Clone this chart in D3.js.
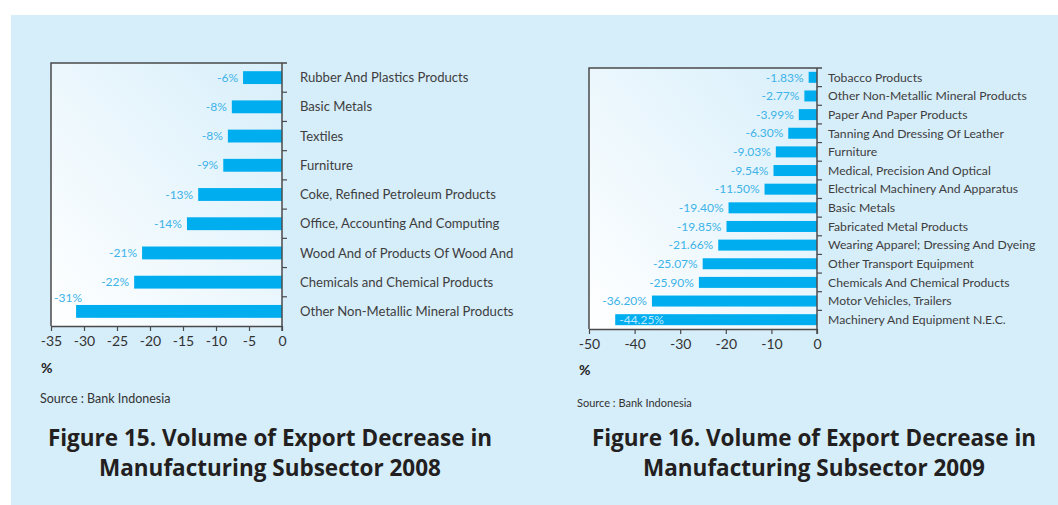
<!DOCTYPE html>
<html>
<head>
<meta charset="utf-8">
<script src="https://cdn.jsdelivr.net/npm/d3@7"></script>
<style>
  html, body { margin: 0; padding: 0; background: #fff; }
  svg text { font-family: Lato, "Open Sans", sans-serif; }
  svg text.title { font-family: "Open Sans", "Noto Sans", sans-serif; }
</style>
</head>
<body>
<div id="chart"></div>
<script>
// Figure 15 (2008)
const cats2008 = ["Rubber And Plastics Products", "Basic Metals", "Textiles", "Furniture",
  "Coke, Refined Petroleum Products", "Office, Accounting And Computing",
  "Wood And of Products Of Wood And", "Chemicals and Chemical Products",
  "Other Non-Metallic Mineral Products"];
const vals2008 = [-5.9, -7.6, -8.2, -8.9, -12.7, -14.4, -21.2, -22.4, -31.2];
const ticks2008 = [-35, -30, -25, -20, -15, -10, -5, 0];

// Figure 16 (2009)
const cats2009 = ["Tobacco Products", "Other Non-Metallic Mineral Products", "Paper And Paper Products",
  "Tanning And Dressing Of Leather", "Furniture", "Medical, Precision And Optical",
  "Electrical Machinery And Apparatus", "Basic Metals", "Fabricated Metal Products",
  "Wearing Apparel; Dressing And Dyeing", "Other Transport Equipment",
  "Chemicals And Chemical Products", "Motor Vehicles, Trailers", "Machinery And Equipment N.E.C."];
const vals2009 = [-1.83, -2.77, -3.99, -6.30, -9.03, -9.54, -11.50, -19.40, -19.85, -21.66,
  -25.07, -25.90, -36.20, -44.25];
const ticks2009 = [-50, -40, -30, -20, -10, 0];

const W = 1058, H = 505;
const svg = d3.select("#chart").append("svg").attr("width", W).attr("height", H);

// panel background
svg.append("rect").attr("x", 11).attr("y", 15).attr("width", W - 11).attr("height", H - 15)
  .attr("fill", "#d6edfa");

const defs = svg.append("defs");
const grad = defs.append("linearGradient").attr("id", "plotbg")
  .attr("x1", "100%").attr("y1", "0%").attr("x2", "0%").attr("y2", "100%");
grad.append("stop").attr("offset", "0%").attr("stop-color", "#d8effb");
grad.append("stop").attr("offset", "100%").attr("stop-color", "#ffffff");

function drawChart(o) {
  const g = svg.append("g");
  const x = d3.scaleLinear().domain(o.domain).range([o.left, o.right]);
  const y = d3.scaleBand().domain(o.cats).range([o.top, o.bottom]).paddingInner(o.pad).paddingOuter(o.pad / 2);

  g.append("rect").attr("x", o.left).attr("y", o.top)
    .attr("width", o.right - o.left).attr("height", o.bottom - o.top)
    .attr("fill", "url(#plotbg)");

  // bars
  g.selectAll("rect.bar").data(o.vals).join("rect").attr("class", "bar")
    .attr("x", d => x(d)).attr("width", d => x(0) - x(d))
    .attr("y", (d, i) => y(o.cats[i])).attr("height", y.bandwidth())
    .attr("fill", "#00aeef");

  // frame: left + top
  g.append("path")
    .attr("d", `M${o.left},${o.bottom}V${o.top}H${o.right + 5}`)
    .attr("fill", "none").attr("stroke", "#4a4a4a").attr("stroke-width", 1.5);

  // x axis
  const xa = g.append("g").attr("transform", `translate(0,${o.bottom})`)
    .call(d3.axisBottom(x).tickValues(o.ticks).tickFormat(d => String(d))
      .tickSize(5).tickSizeOuter(0).tickPadding(5));
  xa.select(".domain").attr("stroke", "#4a4a4a").attr("stroke-width", 1.5);
  xa.selectAll(".tick line").attr("stroke", "#4a4a4a").attr("stroke-width", 1.2);
  xa.selectAll(".tick text").attr("fill", "#333").style("font-size", o.tickFont + "px")
    .style("font-family", "Lato, sans-serif");

  // y axis at zero with ticks at band boundaries
  g.append("line").attr("x1", x(0)).attr("x2", x(0)).attr("y1", o.top).attr("y2", o.bottom + 5)
    .attr("stroke", "#4a4a4a").attr("stroke-width", 1.5);
  const bounds = d3.range(1, o.cats.length).map(i => o.top + i * y.step());
  g.selectAll("line.ytick").data(bounds).join("line").attr("class", "ytick")
    .attr("x1", x(0)).attr("x2", x(0) + 5).attr("y1", d => d).attr("y2", d => d)
    .attr("stroke", "#4a4a4a").attr("stroke-width", 1.2);

  // category labels
  g.selectAll("text.cat").data(o.cats).join("text").attr("class", "cat")
    .attr("x", o.catX).attr("y", d => y(d) + y.bandwidth() / 2).attr("dy", "0.35em")
    .attr("fill", "#3e3e3e").style("font-size", o.catFont + "px").text(d => d);

  // value labels
  g.selectAll("text.val").data(o.vals).join("text").attr("class", "val")
    .each(function (d, i) {
      const t = d3.select(this);
      const cy = y(o.cats[i]) + y.bandwidth() / 2;
      const p = o.place(d, i, x, y);
      t.attr("x", p.x).attr("y", cy + p.dy).attr("dy", "0.35em")
        .attr("text-anchor", p.anchor).attr("fill", p.fill);
    })
    .style("font-size", o.valFont + "px")
    .text(o.fmt);

  // unit
  g.append("text").attr("x", o.left - 10).attr("y", o.unitY).attr("fill", "#222")
    .style("font-size", "14px").style("font-weight", "bold").text("%");

  // source
  g.append("text").attr("x", o.srcX).attr("y", o.srcY).attr("fill", "#333")
    .style("font-size", o.srcFont + "px").text("Source : Bank Indonesia");

  // title
  const tt = g.append("text").attr("class", "title").attr("x", o.titleX).attr("y", 446)
    .attr("text-anchor", "middle")
    .attr("fill", "#231f20").style("font-size", "22.5px").style("font-weight", "bold");
  o.title.forEach((line, i) => tt.append("tspan").attr("x", o.titleX).attr("dy", i ? 30 : 0).text(line));
}

drawChart({
  cats: cats2008, vals: vals2008, ticks: ticks2008, domain: [-35, 0],
  left: 51, right: 282, top: 63, bottom: 326, pad: 0.56,
  tickFont: 14, catFont: 13.1, valFont: 12, catX: 300,
  fmt: d => Math.round(d) + "%",
  place: (d, i, x, y) => i === vals2008.length - 1
    ? { x: x(d) - 22, dy: -14, anchor: "start", fill: "#3db3e8" }
    : { x: x(d) - 5, dy: 0, anchor: "end", fill: "#3db3e8" },
  unitY: 373, srcX: 40, srcY: 403, srcFont: 12.5,
  titleX: 270, title: ["Figure 15. Volume of Export Decrease in", "Manufacturing Subsector 2008"]
});

drawChart({
  cats: cats2009, vals: vals2009, ticks: ticks2009, domain: [-50, 0],
  left: 589, right: 817, top: 68, bottom: 329, pad: 0.41,
  tickFont: 14, catFont: 12.2, valFont: 12, catX: 828,
  fmt: d => d.toFixed(2) + "%",
  place: (d, i, x, y) => i === vals2009.length - 1
    ? { x: x(d) + 4, dy: 0, anchor: "start", fill: "#bfe9ff" }
    : { x: x(d) - 5, dy: 0, anchor: "end", fill: "#3db3e8" },
  unitY: 375, srcX: 577, srcY: 407, srcFont: 11,
  titleX: 814, title: ["Figure 16. Volume of Export Decrease in", "Manufacturing Subsector 2009"]
});
</script>
</body>
</html>
